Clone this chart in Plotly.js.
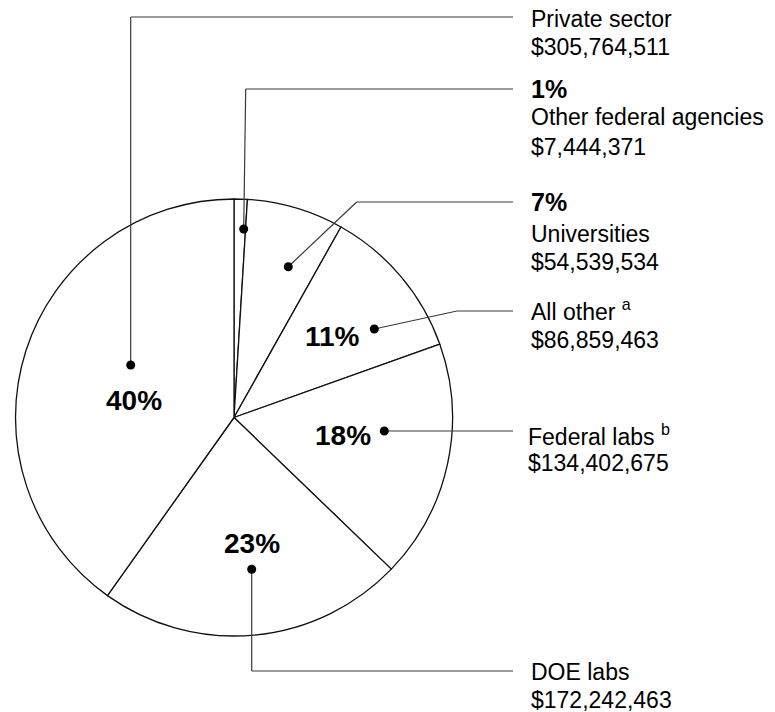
<!DOCTYPE html>
<html>
<head>
<meta charset="utf-8">
<script src="https://cdn.plot.ly/plotly-3.0.1.min.js"></script>
<style>html,body{margin:0;padding:0;background:#fff;}#chart{width:775px;height:712px;}</style>
</head>
<body>
<div id="chart"></div>
<script>
// ---- Data ----
const categories = ['Other federal agencies', 'Universities', 'All other', 'Federal labs', 'DOE labs', 'Private sector'];
const amounts = [7444371, 54539534, 86859463, 134402675, 172242463, 305764511];
const footnotes = ['', '', 'a', 'b', '', ''];

// ---- Layout helpers (pixel positions of the figure) ----
const W = 775, H = 712;
const px = x => x / W;
const py = y => 1 - y / H;
const FONT = 'Liberation Sans, Arial, Helvetica, sans-serif';

// per-category label placement (pixels): outside text baselines, inside % label, leader path
const placement = {
  'Other federal agencies': {tx: 529, base: [98, 125, 155], pctOut: true, inside: null,
    path: [[243.7, 229], [245.7, 89], [513, 89]]},
  'Universities': {tx: 529, base: [210.7, 241.7, 270], pctOut: true, inside: null,
    path: [[288.3, 266.7], [356.7, 202], [513, 202]]},
  'All other': {tx: 529, base: [318, 348], pctOut: false, inside: [332, 346.7],
    path: [[374.3, 329], [457, 311], [513, 311]]},
  'Federal labs': {tx: 526, base: [443, 471], pctOut: false, inside: [343, 445],
    path: [[384.3, 431], [513, 431]]},
  'DOE labs': {tx: 529, base: [680, 708], pctOut: false, inside: [252, 553.3],
    path: [[251.7, 569.3], [251.7, 671], [513, 671]]},
  'Private sector': {tx: 529, base: [27, 55], pctOut: false, inside: [133.5, 410],
    path: [[130.7, 365], [130.7, 17], [513, 17]]}
};

const total = amounts.reduce((a, b) => a + b, 0);
const pcts = amounts.map(v => Math.round(v / total * 100) + '%');
const money = v => '$' + v.toLocaleString('en-US');

const annotations = [];
const shapes = [];
const REG = 23, PCT_OUT = 25, PCT_IN = 28;

function textLine(x, base, text, size, bold) {
  annotations.push({
    xref: 'paper', yref: 'paper', x: px(x), y: py(base - 0.35 * size),
    xanchor: 'left', yanchor: 'middle', showarrow: false,
    text: bold ? '<b>' + text + '</b>' : text,
    font: {family: FONT, size: size, color: '#000'}
  });
}

categories.forEach((cat, i) => {
  const p = placement[cat];
  const name = cat + (footnotes[i] ? ' <sup>' + footnotes[i] + '</sup>' : '');
  let k = 0;
  if (p.pctOut) { textLine(p.tx, p.base[k++], pcts[i], PCT_OUT, true); }
  textLine(p.tx, p.base[k++], name, REG, false);
  textLine(p.tx, p.base[k++], money(amounts[i]), REG, false);
  if (p.inside) {
    annotations.push({
      xref: 'paper', yref: 'paper', x: px(p.inside[0]), y: py(p.inside[1] - 0.35 * PCT_IN),
      xanchor: 'center', yanchor: 'middle', showarrow: false,
      text: '<b>' + pcts[i] + '</b>',
      font: {family: FONT, size: PCT_IN, color: '#000'}
    });
  }
  for (let j = 0; j < p.path.length - 1; j++) {
    shapes.push({type: 'line', xref: 'paper', yref: 'paper',
      x0: px(p.path[j][0]), y0: py(p.path[j][1]), x1: px(p.path[j + 1][0]), y1: py(p.path[j + 1][1]),
      line: {color: '#3a3a3a', width: 1.2}});
  }
  const d = p.path[0], r = 4.5;
  shapes.push({type: 'circle', xref: 'paper', yref: 'paper',
    x0: px(d[0] - r), x1: px(d[0] + r), y0: py(d[1] + r), y1: py(d[1] - r),
    fillcolor: '#000', line: {color: '#000', width: 0}});
});

// pie geometry (pixels): centre (234, 417.5), radius 218.5
const cx = 234, cy = 417.5, R = 218.5;

const trace = {
  type: 'pie',
  labels: categories,
  values: amounts,
  sort: false,
  direction: 'clockwise',
  rotation: 0,
  textinfo: 'none',
  hoverinfo: 'none',
  marker: {colors: categories.map(() => '#ffffff'), line: {color: '#111', width: 1.3}},
  domain: {x: [px(cx - R), px(cx + R)], y: [py(cy + R), py(cy - R)]},
  showlegend: false
};

const layout = {
  width: W, height: H,
  margin: {l: 0, r: 0, t: 0, b: 0},
  paper_bgcolor: '#fff',
  showlegend: false,
  annotations: annotations,
  shapes: shapes,
  font: {family: FONT}
};

Plotly.newPlot('chart', [trace], layout, {displayModeBar: false, staticPlot: true});
</script>
</body>
</html>
